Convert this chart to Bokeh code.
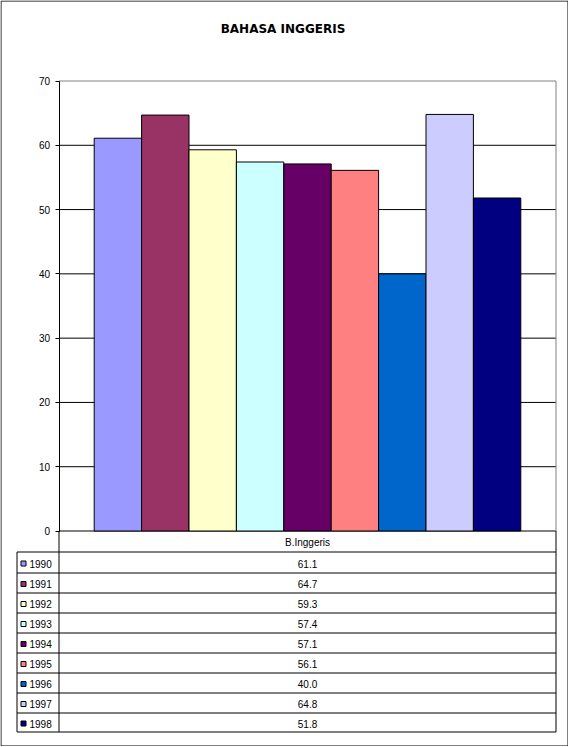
from bokeh.plotting import figure
from bokeh.models import ColumnDataSource, Range1d, LinearAxis, FixedTicker
from bokeh.embed import file_html
from bokeh.resources import INLINE
from bokeh.core.properties import value

# data
title_text = "BAHASA INGGERIS"
subject = "B.Inggeris"
years = [1990, 1991, 1992, 1993, 1994, 1995, 1996, 1997, 1998]
scores = [61.1, 64.7, 59.3, 57.4, 57.1, 56.1, 40.0, 64.8, 51.8]
colors = ["#9999FF", "#993366", "#FFFFCC", "#CCFFFF", "#660066",
          "#FF8080", "#0066CC", "#CCCCFF", "#000080"]
y_ticks = [0, 10, 20, 30, 40, 50, 60, 70]

FONT = "Liberation Sans"
W, H = 568, 746

# page layout in pixels (line centres)
PLOT_L, PLOT_R = 58.5, 555.5
PLOT_T, PLOT_B = 80.5, 530.5
TABLE_L = 16.5
ROW_LINES = [551.5, 572.5, 592.5, 612.5, 632.5, 652.5, 672.5, 692.5, 712.5, 731.5]
BAR_PX = 47.4

ppu = (PLOT_B - PLOT_T) / y_ticks[-1]
mid = (years[0] + years[-1]) / 2
cx = (PLOT_L + PLOT_R) / 2

p = figure(width=W, height=H,
           x_range=Range1d(mid - cx / BAR_PX, mid + (W - cx) / BAR_PX),
           y_range=Range1d((PLOT_B - H) / ppu, PLOT_B / ppu),
           x_axis_location=None, y_axis_location=None, min_border=0,
           output_backend="svg", toolbar_location=None)
p.extra_x_ranges = {"px": Range1d(0, W)}
p.extra_y_ranges = {"px": Range1d(H, 0)}
p.grid.visible = False
p.outline_line_color = None
p.title.visible = False

# value axis
yax = LinearAxis(fixed_location=PLOT_L, x_range_name="px",
                 bounds=(0, y_ticks[-1]), ticker=FixedTicker(ticks=y_ticks))
yax.axis_line_color = "black"
yax.major_tick_line_color = "black"
yax.major_tick_out = 4
yax.major_tick_in = 0
yax.minor_tick_line_color = None
yax.major_label_standoff = 5
yax.major_label_text_font = FONT
yax.major_label_text_font_size = "10px"
yax.major_label_text_color = "black"
p.add_layout(yax, "left")

# gridlines and plot-area edges
p.segment(x0=PLOT_L, x1=PLOT_R, y0=y_ticks[:-1], y1=y_ticks[:-1],
          x_range_name="px", line_color="black", line_width=1)
p.segment(x0=[PLOT_L, PLOT_R], x1=[PLOT_R, PLOT_R], y0=[y_ticks[-1], 0],
          y1=[y_ticks[-1], y_ticks[-1]], x_range_name="px",
          line_color="#808080", line_width=1)

src = ColumnDataSource(dict(year=years, score=scores, color=colors))
p.vbar(x="year", top="score", bottom=0, width=1, source=src,
       fill_color="color", line_color="black", line_width=1)

# data table
n = len(years)
last = ROW_LINES[-1]
p.segment(x0=TABLE_L, x1=PLOT_R, y0=ROW_LINES, y1=ROW_LINES,
          x_range_name="px", y_range_name="px", line_color="black", line_width=1)
p.segment(x0=[TABLE_L, PLOT_L, PLOT_R], x1=[TABLE_L, PLOT_L, PLOT_R],
          y0=[ROW_LINES[0], PLOT_B, PLOT_B], y1=[last, last, last],
          x_range_name="px", y_range_name="px", line_color="black", line_width=1)

p.text(x=[cx], y=[(PLOT_B + ROW_LINES[0]) / 2 + 0.5], text=[subject],
       x_range_name="px", y_range_name="px", text_align="center",
       text_baseline="middle", text_font=value(FONT), text_font_size="10px",
       text_color="black")

centers = [(ROW_LINES[i] + ROW_LINES[i + 1]) / 2 + 1 for i in range(n)]
p.scatter(x=[23] * n, y=centers, marker="square", size=5,
          x_range_name="px", y_range_name="px",
          fill_color=colors, line_color="black", line_width=1)
p.text(x=[29] * n, y=centers, text=[str(yr) for yr in years],
       x_range_name="px", y_range_name="px", text_align="left",
       text_baseline="middle", text_font=value(FONT), text_font_size="10px",
       text_color="black")
p.text(x=[cx] * n, y=centers, text=[f"{s:.1f}" for s in scores],
       x_range_name="px", y_range_name="px", text_align="center",
       text_baseline="middle", text_font=value(FONT), text_font_size="10px",
       text_color="black")

# title and chart border
p.text(x=[282.5], y=[28.5], text=[title_text], x_range_name="px", y_range_name="px",
       text_align="center", text_baseline="middle", text_font=value("DejaVu Sans"),
       text_font_size="12px", text_font_style="bold", text_color="black")
p.quad(left=0.5, right=W - 0.5, top=0.5, bottom=H - 0.5,
       x_range_name="px", y_range_name="px",
       fill_color=None, line_color="black", line_width=1)

open("out.html", "w").write(file_html(p, INLINE))
